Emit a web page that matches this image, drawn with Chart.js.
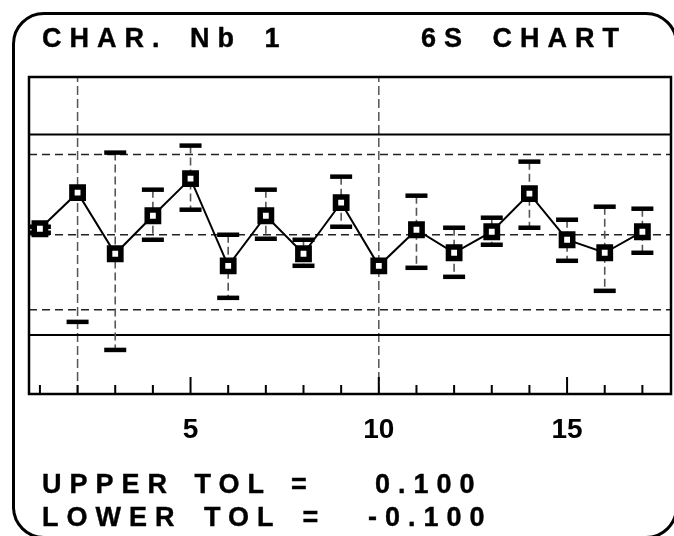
<!DOCTYPE html>
<html><head><meta charset="utf-8">
<script src="https://cdn.jsdelivr.net/npm/chart.js@4.4.1/dist/chart.umd.min.js"></script>
<style>
html,body{margin:0;padding:0;background:#fff;width:674px;height:536px;overflow:hidden;position:relative;}
#frame{position:absolute;left:12px;top:12px;width:666px;height:527px;box-sizing:border-box;border:3px solid #000;border-radius:32px;}
#wrap{position:absolute;left:0;top:0;width:674px;height:536px;}
.t{position:absolute;font-family:'Liberation Sans',Arial,sans-serif;font-weight:bold;color:#000;white-space:pre;font-size:27px;line-height:27px;letter-spacing:8px;word-spacing:7px;-webkit-text-stroke:0.4px #000;}
</style></head>
<body>
<div id="frame"></div>
<div id="wrap"><canvas id="c"></canvas></div>
<div class="t" style="left:42px;top:25px;">CHAR. Nb 1</div>
<div class="t" style="left:421px;top:25px;">6S CHART</div>
<div class="t" style="left:42px;top:471px;word-spacing:4px;">UPPER TOL =</div>
<div class="t" style="left:375px;top:471px;">0.100</div>
<div class="t" style="left:42px;top:504px;word-spacing:6px;">LOWER TOL =</div>
<div class="t" style="left:368px;top:504px;">-0.100</div>
<script>
// ---- data ----
const samples = [1,2,3,4,5,6,7,8,9,10,11,12,13,14,15,16,17];
const means = [0.006, 0.042, -0.019, 0.019, 0.056, -0.031, 0.019, -0.019, 0.032, -0.031, 0.005, -0.018, 0.003, 0.041, -0.005, -0.018, 0.003];
const highs = [0.008, null, 0.082, 0.045, 0.089, 0.000, 0.045, -0.005, 0.058, null, 0.039, 0.007, 0.017, 0.073, 0.015, 0.028, 0.026];
const lows  = [0.002, -0.087, -0.115, -0.005, 0.025, -0.063, -0.004, -0.031, 0.008, null, -0.033, -0.042, -0.010, 0.007, -0.026, -0.056, -0.018];
const tolLimits = [0.100, -0.100];
const ctrlLimits = [0.080, 0.000, -0.075];
const refSamples = [2, 10];
const tickLabels = [5, 10, 15];

const X_MIN = 0.71, X_MAX = 17.76, Y_MIN = -0.159, Y_MAX = 0.1575;

const hLine = (v) => [{x: X_MIN, y: v}, {x: X_MAX, y: v}];
const datasets = [];

tolLimits.forEach(v => datasets.push({
  data: hLine(v), borderColor: '#000', borderWidth: 2, pointRadius: 0, order: 6
}));
ctrlLimits.forEach(v => datasets.push({
  data: hLine(v), borderColor: '#222', borderWidth: 1.5, borderDash: [8, 5], pointRadius: 0, order: 6
}));
refSamples.forEach(s => datasets.push({
  data: [{x: s, y: Y_MIN}, {x: s, y: Y_MAX}], borderColor: '#555', borderWidth: 1.5, borderDash: [9, 4], pointRadius: 0, order: 6
}));

// range (dashed vertical segments between low and high)
const rangeData = [];
samples.forEach((s, i) => {
  if (highs[i] !== null && lows[i] !== null) {
    rangeData.push({x: s, y: highs[i]}, {x: s, y: lows[i]}, {x: s, y: null});
  }
});
datasets.push({data: rangeData, borderColor: '#555', borderWidth: 1.6, borderDash: [8, 4], pointRadius: 0, spanGaps: false, order: 5});

// high / low caps
const capData = [];
samples.forEach((s, i) => {
  if (highs[i] !== null) capData.push({x: s, y: highs[i]});
  if (lows[i] !== null) capData.push({x: s, y: lows[i]});
});
datasets.push({data: capData, showLine: false, pointStyle: 'line', pointRadius: 11, pointBorderWidth: 4.5, borderColor: '#000', pointBorderColor: '#000', order: 4});

// sample means
datasets.push({
  data: samples.map((s, i) => ({x: s, y: means[i]})),
  borderColor: '#000', borderWidth: 2, tension: 0,
  pointStyle: 'rect', pointRadius: 8, pointBorderWidth: 5.5,
  pointBackgroundColor: '#fff', pointBorderColor: '#000', order: 1
});

const framePlugin = {
  id: 'framePlugin',
  afterDatasetsDraw(chart) {
    const {ctx, chartArea: a, scales: {x}} = chart;
    ctx.save();
    ctx.strokeStyle = '#000';
    ctx.lineWidth = 2;
    ctx.beginPath();
    samples.forEach(s => {
      const px = x.getPixelForValue(s);
      const len = tickLabels.includes(s) ? 17 : 9;
      ctx.moveTo(px, a.bottom);
      ctx.lineTo(px, a.bottom - len);
    });
    ctx.stroke();
    ctx.lineWidth = 2.5;
    ctx.strokeRect(a.left, a.top, a.right - a.left, a.bottom - a.top);
    ctx.restore();
  }
};

new Chart(document.getElementById('c'), {
  type: 'line',
  data: {datasets},
  options: {
    responsive: true, maintainAspectRatio: false, animation: false,
    devicePixelRatio: 1,
    layout: {autoPadding: false, padding: {left: 29, top: 77, right: 3, bottom: 93}},
    plugins: {legend: {display: false}, tooltip: {enabled: false}},
    scales: {
      x: {
        type: 'linear', min: X_MIN, max: X_MAX,
        afterBuildTicks: (s) => { s.ticks = tickLabels.map(v => ({value: v})); },
        afterFit: (s) => { s.height = 49; },
        grid: {display: false}, border: {display: false},
        ticks: {color: '#000', padding: 11, maxRotation: 0, autoSkip: false,
          font: {family: "'Liberation Sans', Arial, sans-serif", size: 28, weight: 'bold'}}
      },
      y: {display: false, min: Y_MIN, max: Y_MAX}
    }
  },
  plugins: [framePlugin]
});
</script>
</body></html>
